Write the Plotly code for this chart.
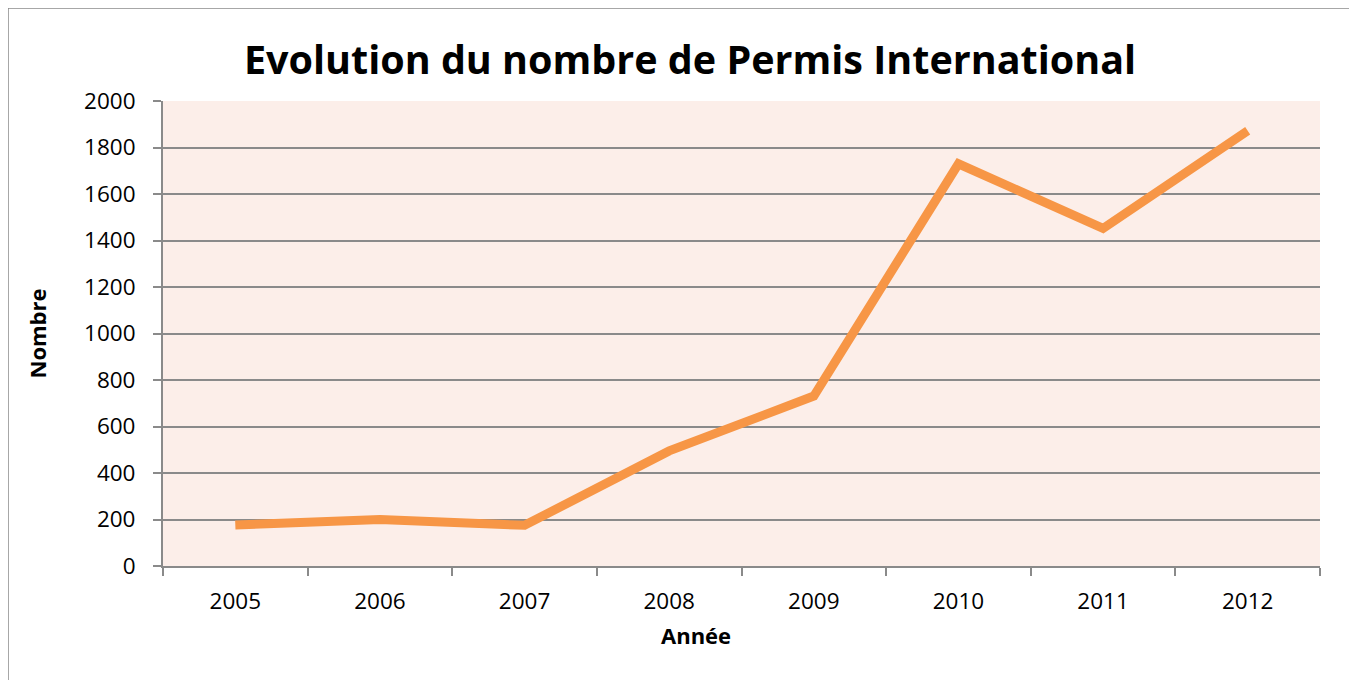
import plotly.graph_objects as go

years = ["2005", "2006", "2007", "2008", "2009", "2010", "2011", "2012"]
permis = [176, 200, 175, 495, 731, 1730, 1452, 1872]
y_ticks = [0, 200, 400, 600, 800, 1000, 1200, 1400, 1600, 1800, 2000]

W, H = 1357, 680
L, R, T, B = 155, 45, 93, 122
PW, PH = W - L - R, H - T - B
FONT = "'Open Sans', Lato, sans-serif"
GRID = "#8a8a8a"

fig = go.Figure()
fig.add_trace(go.Scatter(
    x=years, y=permis, mode="lines",
    line=dict(color="#F79646", width=9),
    showlegend=False, hoverinfo="x+y",
))

fig.update_layout(
    width=W, height=H,
    margin=dict(l=L, r=R, t=T, b=B, autoexpand=False),
    paper_bgcolor="white",
    plot_bgcolor="#FCEEE9",
    font=dict(family=FONT, color="black"),
    title=dict(
        text="<b>Evolution du nombre de Permis International</b>",
        x=682 / W, xanchor="center",
        y=1 - 52 / H, yanchor="middle",
        xref="container", yref="container",
        font=dict(size=39.5, family=FONT, color="black"),
    ),
    xaxis=dict(
        type="category",
        range=[-0.5, len(years) - 0.5],
        automargin=False,
        showgrid=False,
        showline=True, linecolor=GRID, linewidth=2,
        ticks="outside", tickson="boundaries", ticklen=8, tickwidth=1.5, tickcolor=GRID,
        tickfont=dict(size=22.5, family=FONT),
        ticklabelstandoff=14,
    ),
    yaxis=dict(
        range=[0, 2000],
        automargin=False,
        tickvals=y_ticks,
        showgrid=True, gridcolor=GRID, gridwidth=1.5,
        showline=True, linecolor=GRID, linewidth=2,
        ticks="outside", ticklen=8, tickwidth=1.5, tickcolor=GRID,
        tickfont=dict(size=22.5, family=FONT),
        title=dict(text="<b>Nombre</b>", font=dict(size=22, family=FONT), standoff=31),
        ticklabelstandoff=13,
        zeroline=False,
    ),
    annotations=[dict(
        text="<b>Année</b>", xref="paper", yref="paper",
        x=(688 - L) / PW, y=-(627 - (H - B)) / PH,
        xanchor="center", yanchor="middle", showarrow=False,
        font=dict(size=22, family=FONT, color="black"),
    )],
    shapes=[dict(
        type="rect", xref="paper", yref="paper",
        x0=-L / PW, x1=1 + (R + 20) / PW,
        y0=-(B + 20) / PH, y1=1 + T / PH,
        line=dict(color="#8a8a8a", width=1.5),
        fillcolor="rgba(0,0,0,0)", layer="below",
    )],
)

fig.write_html("out.html")
